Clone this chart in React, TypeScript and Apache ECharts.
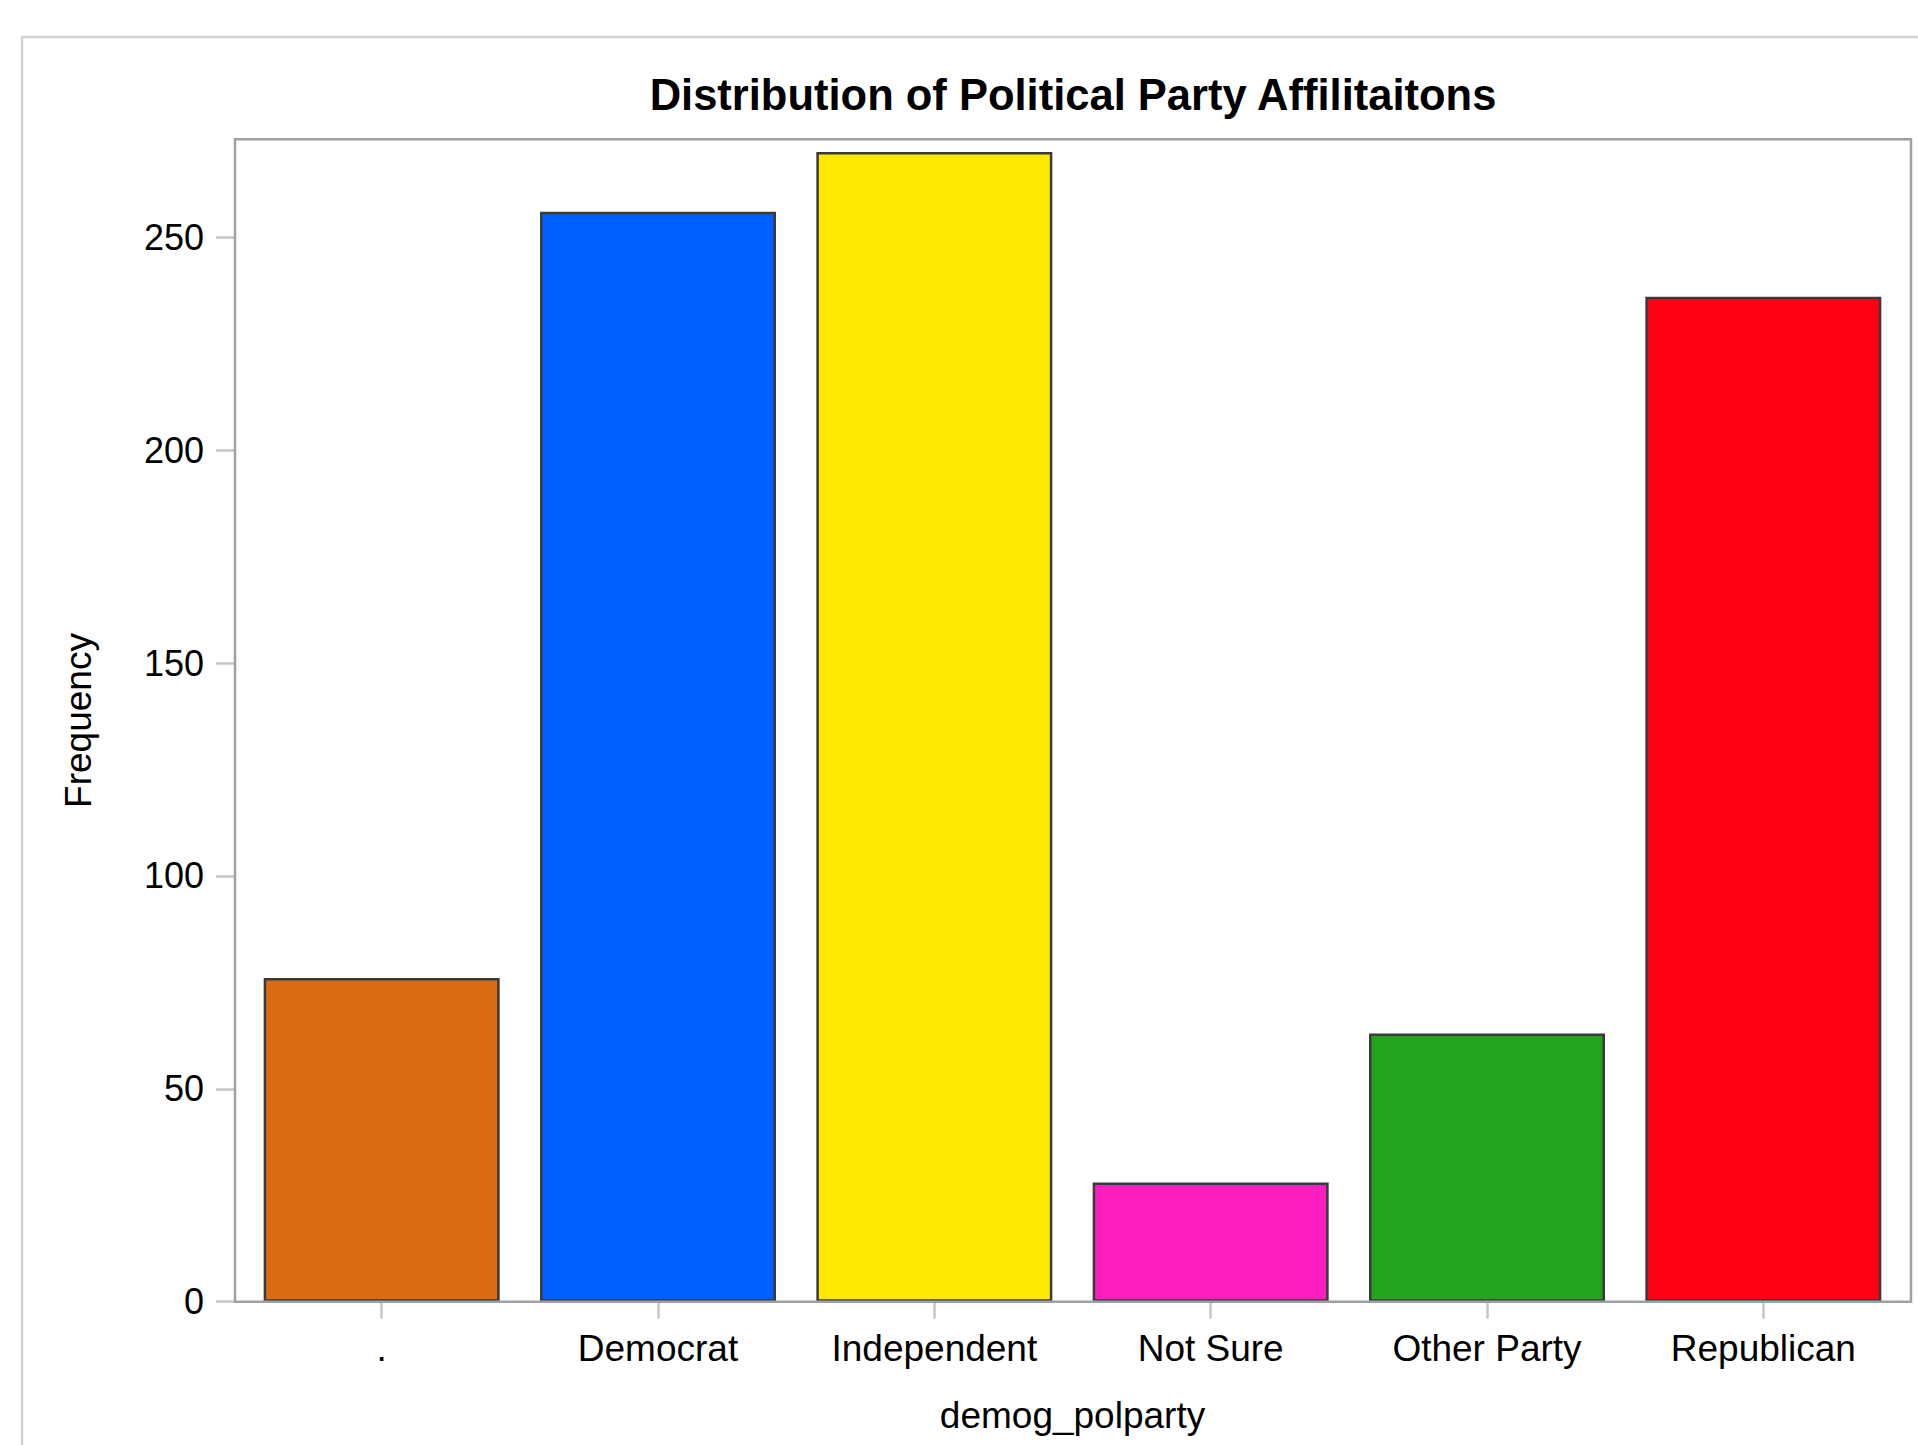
import React, { useEffect, useRef } from "react";
import * as echarts from "echarts";

const categories = [".", "Democrat", "Independent", "Not Sure", "Other Party", "Republican"];
const frequencies = [76, 256, 270, 28, 63, 236];
const barColors = ["#D96B15", "#0060FF", "#FFE900", "#FC1FBE", "#23A31E", "#FF0014"];
const yTicks = [0, 50, 100, 150, 200, 250];
const yMax = 273;
const titleText = "Distribution of Political Party Affilitaitons";
const xName = "demog_polparty";
const yName = "Frequency";

const FONT = "'Liberation Sans', Arial, sans-serif";

export default function App() {
  const ref = useRef<HTMLDivElement>(null);

  useEffect(() => {
    if (!ref.current) return;
    const chart = echarts.init(ref.current, undefined, { renderer: "svg" });

    const frameLeft = 235;
    const frameRight = 1911;
    const frameTop = 139.3;
    const frameBottom = 1301.7;
    const gridLeft = 243.5;
    const gridRight = 1901.5;

    chart.setOption({
      animation: false,
      backgroundColor: "#ffffff",
      grid: {
        left: gridLeft,
        right: 1918 - gridRight,
        top: frameTop,
        bottom: 1445 - frameBottom,
        containLabel: false,
      },
      xAxis: {
        type: "category",
        data: categories,
        boundaryGap: true,
        name: xName,
        nameLocation: "middle",
        nameGap: 95,
        nameTextStyle: { color: "#000", fontSize: 37, fontFamily: FONT },
        axisLine: { show: false },
        axisTick: {
          show: true,
          alignWithLabel: true,
          length: 17,
          lineStyle: { color: "#c4c6c8", width: 2.5 },
        },
        axisLabel: {
          color: "#000",
          fontSize: 37,
          fontFamily: FONT,
          margin: 28,
          interval: 0,
        },
        splitLine: { show: false },
      },
      yAxis: {
        type: "value",
        min: 0,
        max: yMax,
        interval: 50,
        offset: gridLeft - frameLeft,
        name: yName,
        nameLocation: "middle",
        nameGap: 138,
        nameTextStyle: { color: "#000", fontSize: 37, fontFamily: FONT },
        axisLine: { show: false },
        axisTick: {
          show: true,
          length: 19,
          customValues: yTicks,
          lineStyle: { color: "#c4c6c8", width: 2.5 },
        },
        axisLabel: {
          color: "#000",
          fontSize: 36,
          fontFamily: FONT,
          margin: 31,
          customValues: yTicks,
        },
        splitLine: { show: false },
      },
      series: [
        {
          type: "bar",
          data: frequencies.map((v, i) => ({
            value: v,
            itemStyle: { color: barColors[i] },
          })),
          barCategoryGap: "14.6%",
          itemStyle: { borderColor: "#3a3a3a", borderWidth: 2.5 },
        },
      ],
      graphic: [
        {
          type: "rect",
          z: 0,
          silent: true,
          shape: { x: 22, y: 37, width: 2400, height: 2400 },
          style: { fill: "none", stroke: "#d2d2d2", lineWidth: 2.5 },
        },
        {
          type: "rect",
          z: 100,
          silent: true,
          shape: {
            x: frameLeft,
            y: frameTop,
            width: frameRight - frameLeft,
            height: frameBottom - frameTop,
          },
          style: { fill: "none", stroke: "#9ca1a5", lineWidth: 2.5 },
        },
        {
          type: "text",
          z: 100,
          silent: true,
          x: (frameLeft + frameRight) / 2,
          y: 94.5,
          style: {
            text: titleText,
            fill: "#000",
            fontSize: 43.5,
            fontWeight: "bold",
            fontFamily: FONT,
            align: "center",
            verticalAlign: "middle",
          },
        },
      ],
    });

    return () => chart.dispose();
  }, []);

  return (
    <div
      ref={ref}
      style={{ position: "absolute", left: 0, top: 0, width: 1918, height: 1445 }}
    />
  );
}
